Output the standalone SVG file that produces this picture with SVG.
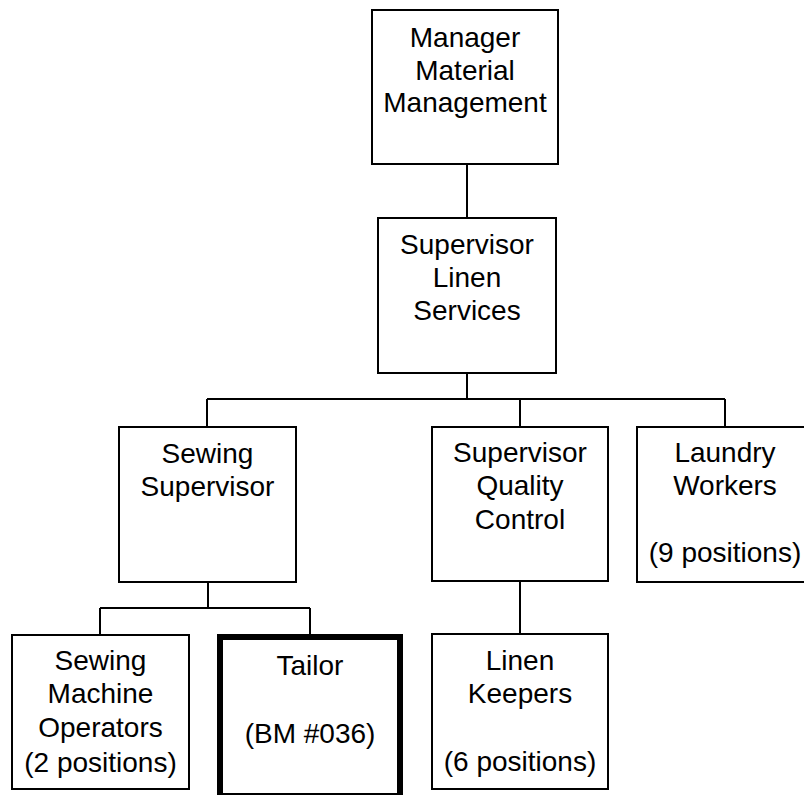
<svg xmlns="http://www.w3.org/2000/svg" width="804" height="795" viewBox="0 0 804 795">
<style>
.box{fill:#fff;stroke:#000;stroke-width:2}
.thick{fill:#fff;stroke:#000;stroke-width:6}
.lbl{font-family:"Liberation Sans",Arial,sans-serif;font-size:28px;fill:#000;text-anchor:middle}
.conn{stroke:#000;stroke-width:2;fill:none}
</style>
<rect width="804" height="795" fill="#fff"/>
<g id="connectors" class="conn">
<path d="M467,164V218"/>
<path d="M467,373V399"/>
<path d="M207,399H725"/>
<path d="M207,399V427M520,399V427M725,399V427"/>
<path d="M208,582V608"/>
<path d="M100,608H310"/>
<path d="M100,608V635M310,608V634"/>
<path d="M520,581V634"/>
</g>
<g id="manager">
<rect class="box" x="372" y="10" width="186" height="154"/>
<text class="lbl" x="465" y="47">Manager</text>
<text class="lbl" x="465" y="79.5">Material</text>
<text class="lbl" x="465" y="112">Management</text>
</g>
<g id="supervisor-linen">
<rect class="box" x="378" y="218" width="178" height="155"/>
<text class="lbl" x="467" y="254">Supervisor</text>
<text class="lbl" x="467" y="287">Linen</text>
<text class="lbl" x="467" y="320">Services</text>
</g>
<g id="sewing-supervisor">
<rect class="box" x="119" y="427" width="177" height="155"/>
<text class="lbl" x="207.5" y="463">Sewing</text>
<text class="lbl" x="207.5" y="496">Supervisor</text>
</g>
<g id="supervisor-qc">
<rect class="box" x="432" y="427" width="176" height="154"/>
<text class="lbl" x="520" y="462">Supervisor</text>
<text class="lbl" x="520" y="495">Quality</text>
<text class="lbl" x="520" y="529">Control</text>
</g>
<g id="laundry">
<rect class="box" x="637" y="427" width="176" height="155"/>
<text class="lbl" x="725" y="462">Laundry</text>
<text class="lbl" x="725" y="495">Workers</text>
<text class="lbl" x="725" y="562">(9 positions)</text>
</g>
<g id="sewing-operators">
<rect class="box" x="12" y="635" width="177" height="154"/>
<text class="lbl" x="100.5" y="670">Sewing</text>
<text class="lbl" x="100.5" y="703">Machine</text>
<text class="lbl" x="100.5" y="737">Operators</text>
<text class="lbl" x="100.5" y="772">(2 positions)</text>
</g>
<g id="tailor">
<rect class="thick" x="220" y="637" width="180" height="159"/>
<text class="lbl" x="310" y="675">Tailor</text>
<text class="lbl" x="310" y="743">(BM #036)</text>
</g>
<g id="linen-keepers">
<rect class="box" x="432" y="634" width="176" height="155"/>
<text class="lbl" x="520" y="670">Linen</text>
<text class="lbl" x="520" y="703">Keepers</text>
<text class="lbl" x="520" y="771">(6 positions)</text>
</g>
</svg>
